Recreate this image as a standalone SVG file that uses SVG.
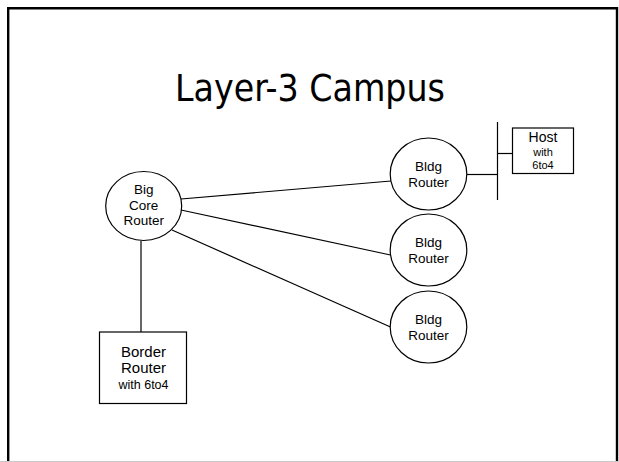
<svg xmlns="http://www.w3.org/2000/svg" width="619" height="462" viewBox="0 0 619 462">
<style>
.shape{fill:#fff;stroke:#000;stroke-width:1.2}
.wire{stroke:#000;stroke-width:1.2;fill:none}
.t{font-family:"Liberation Sans",Arial,sans-serif;fill:#000;text-anchor:middle}
.title{font-family:"DejaVu Sans Condensed","DejaVu Sans",Verdana,sans-serif;font-stretch:condensed;font-size:37px;fill:#000;text-anchor:middle}
</style>
<rect x="0" y="0" width="619" height="462" fill="#fff"/>
<path d="M8.2,470 V8.2 H617 V470" fill="none" stroke="#000" stroke-width="2.4"/>
<line x1="0" y1="461.5" x2="619" y2="461.5" stroke="#c8c8c8" stroke-width="1"/>
<text class="title" x="310" y="101">Layer-3 Campus</text>
<g id="connectors">
<line class="wire" x1="181" y1="199" x2="391" y2="181"/>
<line class="wire" x1="181" y1="210" x2="390.5" y2="255"/>
<line class="wire" x1="172" y1="230" x2="390.5" y2="327"/>
<line class="wire" x1="141" y1="241" x2="141" y2="332"/>
<line class="wire" x1="467" y1="174.5" x2="497.5" y2="174.5"/>
<line class="wire" x1="497.5" y1="122" x2="497.5" y2="200"/>
<line class="wire" x1="497.5" y1="153.5" x2="512.5" y2="153.5"/>
</g>
<g id="core">
<ellipse class="shape" cx="143.7" cy="206" rx="38" ry="34.5"/>
<text class="t" x="143.7" font-size="13.5"><tspan x="143.7" y="194">Big</tspan><tspan x="143.7" y="209.5">Core</tspan><tspan x="143.7" y="225">Router</tspan></text>
</g>
<g id="bldg1">
<ellipse class="shape" cx="428.5" cy="174" rx="38.3" ry="36"/>
<text class="t" font-size="13.5"><tspan x="428.5" y="171">Bldg</tspan><tspan x="428.5" y="186.5">Router</tspan></text>
</g>
<g id="bldg2">
<ellipse class="shape" cx="428.5" cy="250" rx="38.3" ry="36"/>
<text class="t" font-size="13.5"><tspan x="428.5" y="247">Bldg</tspan><tspan x="428.5" y="262.5">Router</tspan></text>
</g>
<g id="bldg3">
<ellipse class="shape" cx="428.5" cy="327" rx="38.3" ry="36"/>
<text class="t" font-size="13.5"><tspan x="428.5" y="324">Bldg</tspan><tspan x="428.5" y="339.5">Router</tspan></text>
</g>
<g id="host">
<rect class="shape" x="512.5" y="128" width="61" height="45.5"/>
<text class="t" x="543" y="142" font-size="14">Host</text>
<text class="t" x="543" y="155.5" font-size="11">with</text>
<text class="t" x="543" y="168.5" font-size="11">6to4</text>
</g>
<g id="border">
<rect class="shape" x="99.5" y="332" width="87" height="71.5"/>
<text class="t" x="143.5" y="356.5" font-size="15">Border</text>
<text class="t" x="143.5" y="372.5" font-size="15">Router</text>
<text class="t" x="143.5" y="388.5" font-size="12.5">with 6to4</text>
</g>
</svg>
